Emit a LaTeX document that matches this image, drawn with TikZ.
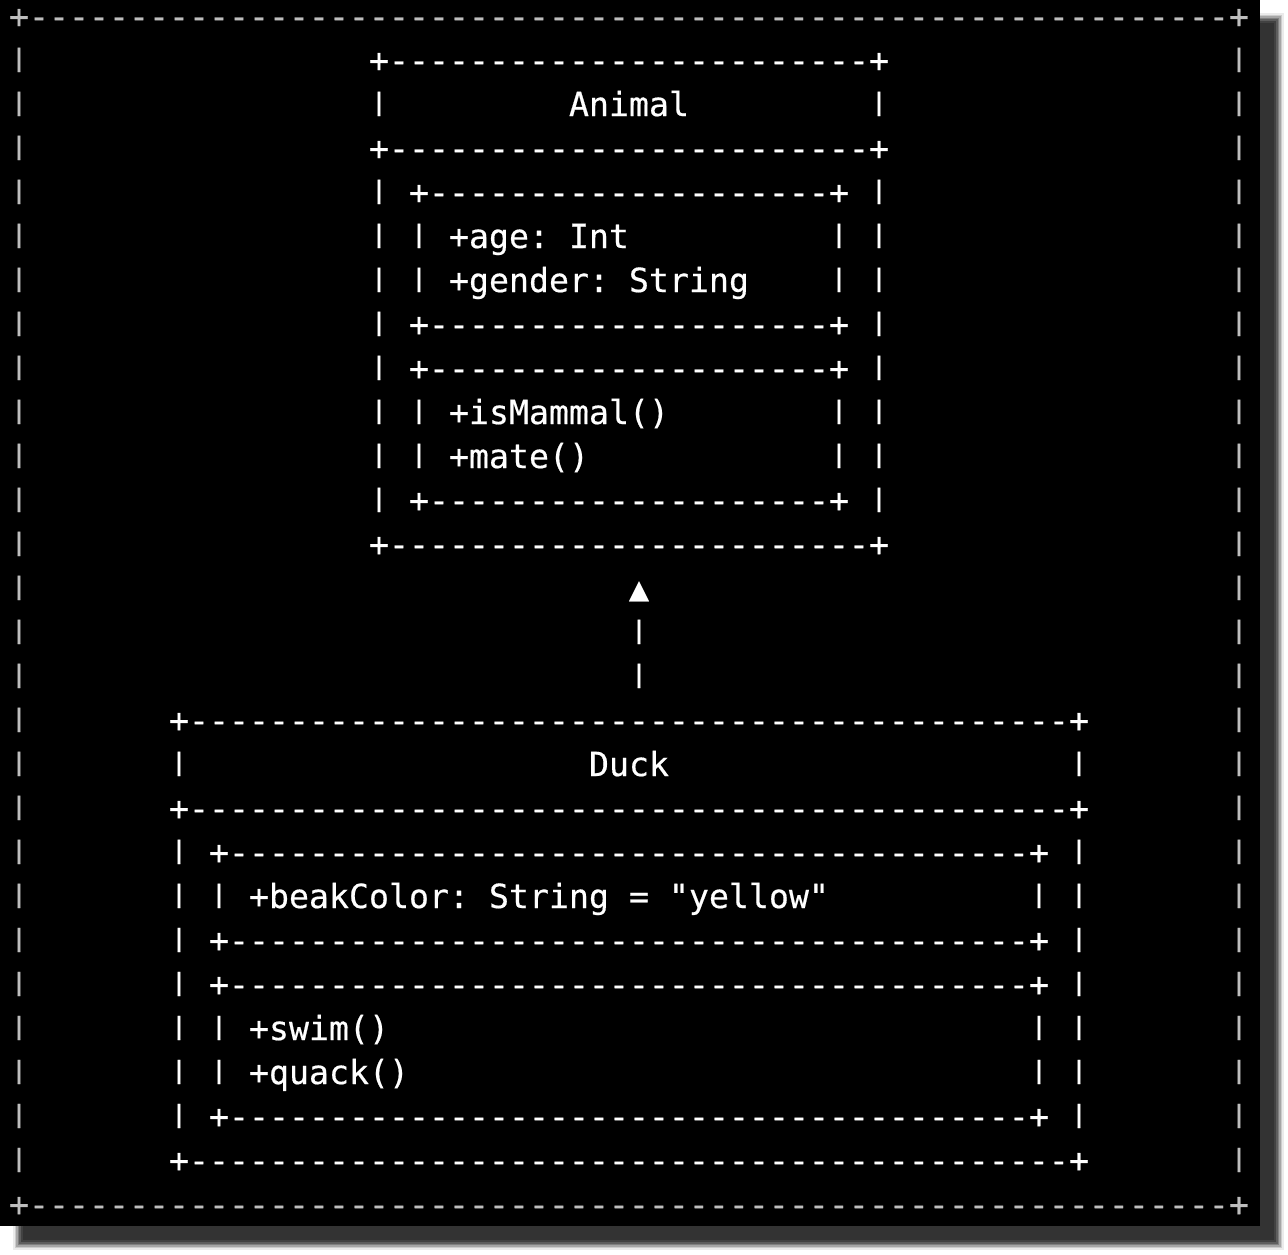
\documentclass[tikz,border=0pt]{standalone}
\usepackage{fontspec}
\setmonofont{DejaVu Sans Mono}[FakeBold=0.5]
\definecolor{framegray}{RGB}{190,190,190}
\ExplSyntaxOn
\cs_new:Npn \hyphs #1 { \prg_replicate:nn {#1} {-} }
\ExplSyntaxOff
\newcommand\vbar{\resizebox{\width}{24.2pt}{\raisebox{\depth}{|}}}
\tikzset{
  txt/.style={anchor=base west, inner sep=0pt, outer sep=0pt,
    font=\ttfamily\fontsize{33.22}{40}\selectfont\frenchspacing, text=white},
  frametxt/.style={txt, text=framegray}
}
\newcommand\cell[5][txt]{\node[#1] (#2) at ({9+20*(#3)},{28+44*(#4)}) {#5};}
\begin{document}
\begin{tikzpicture}[x=1pt,y=-1pt]
\useasboundingbox (0,0) rectangle (1288,1254);
% shadow
\foreach \i/\c in {0/8,1/20,2/35,3/50,4/63,5/74,6/80}{
  \fill[black!\c] ({13+1.6*\i},{13+1.6*\i}) rectangle ({1284-1.6*\i},{1250-1.6*\i});
}
% terminal background
\fill[black] (0,0) rectangle (1260,1226);
% outer frame
\cell[frametxt]{otop}{0}{0}{+\hyphs{60}+}
\cell[frametxt]{obot}{0}{27}{+\hyphs{60}+}
\foreach \r in {1,...,26}{
  \cell[frametxt]{ol\r}{0}{\r}{\vbar}
  \cell[frametxt]{or\r}{61}{\r}{\vbar}
}
% Animal class
\cell{atop}{18}{1}{+\hyphs{24}+}
\cell{aname}{28}{2}{Animal}
\cell{asep}{18}{3}{+\hyphs{24}+}
\cell{abot}{18}{12}{+\hyphs{24}+}
\foreach \r in {2,4,5,6,7,8,9,10,11}{
  \cell{al\r}{18}{\r}{\vbar}
  \cell{ar\r}{43}{\r}{\vbar}
}
\foreach \r in {4,7,8,11}{
  \cell{ai\r}{20}{\r}{+\hyphs{20}+}
}
\foreach \r in {5,6,9,10}{
  \cell{ail\r}{20}{\r}{\vbar}
  \cell{air\r}{41}{\r}{\vbar}
}
\cell{aage}{22}{5}{+age: Int}
\cell{agender}{22}{6}{+gender: String}
\cell{amammal}{22}{9}{+isMammal()}
\cell{amate}{22}{10}{+mate()}
% inheritance arrow
\cell{tip}{31}{13}{▲}
\cell{shaft1}{31}{14}{\vbar}
\cell{shaft2}{31}{15}{\vbar}
% Duck class
\cell{dtop}{8}{16}{+\hyphs{44}+}
\cell{dname}{29}{17}{Duck}
\cell{dsep}{8}{18}{+\hyphs{44}+}
\cell{dbot}{8}{26}{+\hyphs{44}+}
\foreach \r in {17,19,20,21,22,23,24,25}{
  \cell{dl\r}{8}{\r}{\vbar}
  \cell{dr\r}{53}{\r}{\vbar}
}
\foreach \r in {19,21,22,25}{
  \cell{di\r}{10}{\r}{+\hyphs{40}+}
}
\foreach \r in {20,23,24}{
  \cell{dil\r}{10}{\r}{\vbar}
  \cell{dir\r}{51}{\r}{\vbar}
}
\cell{dbeak}{12}{20}{+beakColor: String = "yellow"}
\cell{dswim}{12}{23}{+swim()}
\cell{dquack}{12}{24}{+quack()}
\end{tikzpicture}
\end{document}
